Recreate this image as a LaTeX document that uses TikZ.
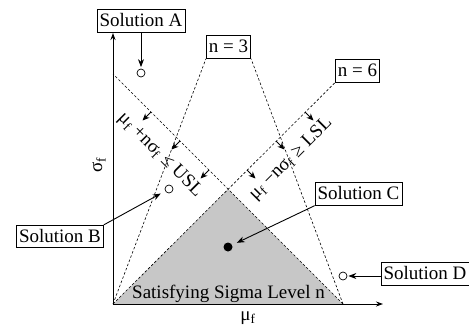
\documentclass[tikz,border=0pt]{standalone}
\usepackage{fontspec}
\setmainfont{Liberation Serif}
\usetikzlibrary{arrows.meta}
\begin{document}
\begin{tikzpicture}[x=1pt,y=-1pt,
  box/.style={draw,line width=0.8pt,inner xsep=2.5pt,inner ysep=4pt,font=\fontsize{19}{22}\selectfont,text height=13pt,text depth=1.5pt},
  lbl/.style={font=\fontsize{19}{22}\selectfont,inner sep=0pt},
  guide/.style={line width=0.6pt,dash pattern=on 2.5pt off 2pt},
  feas/.style={line width=0.8pt,-{Stealth[length=7pt,width=6pt]}},
  call/.style={line width=0.9pt,-{Stealth[length=8pt,width=6pt]}},
  axisline/.style={line width=1pt,-{Stealth[length=7pt,width=5pt]}},
  openpt/.style={circle,draw,line width=0.7pt,minimum size=8pt,inner sep=0pt},
  fullpt/.style={circle,fill,minimum size=9pt,inner sep=0pt}]
\useasboundingbox (0,0) rectangle (469,327);
% key points
\coordinate (O) at (113,304);
\coordinate (U) at (343,304);
\coordinate (T) at (228,189);
\coordinate (Ytop) at (113,33);
\coordinate (Xend) at (383,304);
\coordinate (Yusl) at (113,74);
% feasible region
\fill[black!22] (O) -- (T) -- (U) -- cycle;
% boxes
\node[box] (sa) at (141,21) {Solution A};
\node[box] (n3) at (228.5,47) {n = 3};
\node[box] (n6) at (357.5,71) {n = 6};
\node[box] (sb) at (60,236.5) {Solution B};
\node[box] (sc) at (358.5,194) {Solution C};
\node[box] (sd) at (425,274) {Solution D};
% guide lines
\draw[guide] (O) -- (n3.south west);
\draw[guide] (U) -- (n3.south east);
\draw[guide] (O) -- (n6.south west);
\draw[guide] (U) -- (Yusl);
% feasibility arrows
\foreach \d in {19,48,77}{
  \coordinate (u) at (228-\d,189-\d);
  \draw[feas] (u) -- ++(-8.5,8.5);
  \coordinate (l) at (228+\d,189-\d);
  \draw[feas] (l) -- ++(8.5,8.5);
}
% constraint labels
\node[lbl,rotate=-45] (usl) at (160,155) {μ\textsubscript{f} +nσ\textsubscript{f} ≤ USL};
\node[lbl,rotate=45] (lsl) at (291,159) {μ\textsubscript{f} −nσ\textsubscript{f} ≥ LSL};
% axes
\draw[axisline] (O) -- (Ytop);
\draw[axisline] (O) -- (Xend);
\node[lbl,rotate=90] (ylab) at (99,165) {σ\textsubscript{f}};
\node[lbl] (xlab) at (248,318) {μ\textsubscript{f}};
\node[lbl,anchor=base] (sat) at (228.5,298) {Satisfying Sigma Level n};
% solutions
\node[openpt] (pa) at (141,73) {};
\node[openpt] (pb) at (169,189) {};
\node[fullpt] (pc) at (228,247) {};
\node[openpt] (pd) at (343,276) {};
\draw[call,shorten >=1.5pt] (sa) -- (pa);
\draw[call,shorten >=5pt] (sb.north east) -- (pb);
\draw[call,shorten >=5pt] (sc.south west) -- (pc);
\draw[call,shorten >=1pt] (sd.west |- pd) -- (pd);
\end{tikzpicture}
\end{document}
